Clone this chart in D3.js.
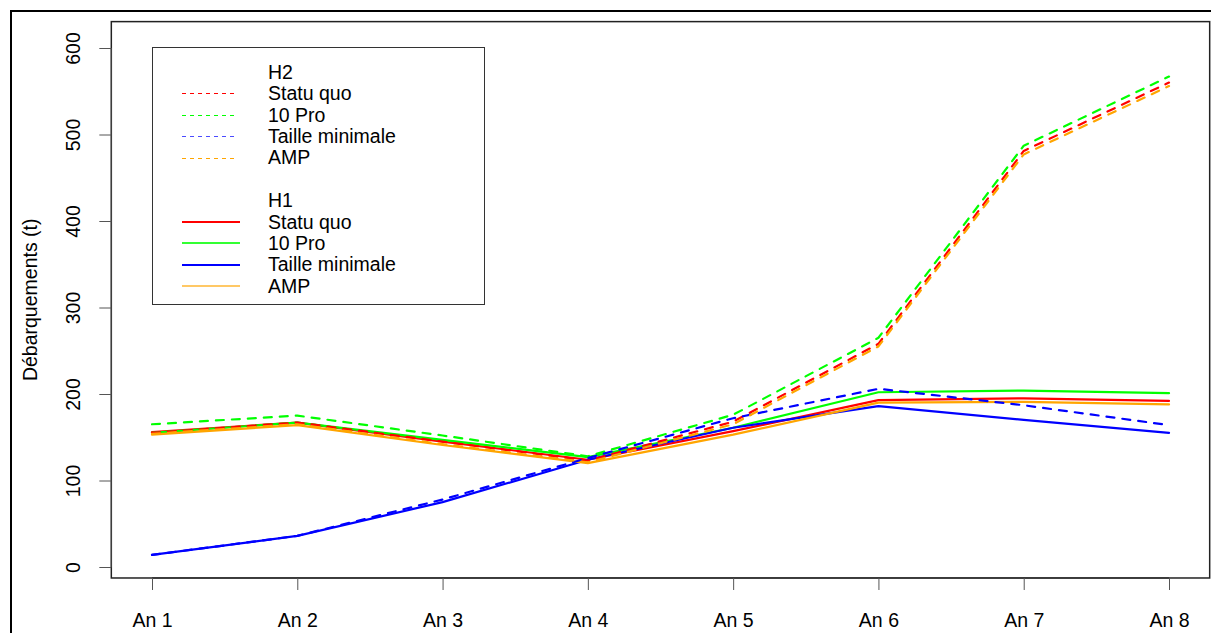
<!DOCTYPE html>
<html>
<head>
<meta charset="utf-8">
<script src="https://cdn.jsdelivr.net/npm/d3@7"></script>
<style>
  html, body { margin: 0; padding: 0; background: #fff; }
  svg { display: block; font-family: "Liberation Sans", Arial, Helvetica, sans-serif; }
</style>
</head>
<body>
<svg id="chart" width="1211" height="633"></svg>
<script>
// ---- data ----
const categories = ["An 1", "An 2", "An 3", "An 4", "An 5", "An 6", "An 7", "An 8"];
const yTicks = [0, 100, 200, 300, 400, 500, 600];

// H2 (dashed)
const h2StatuQuo  = [155, 167, 145, 123, 168, 258, 481, 560];
const h2DixPro    = [165, 175, 152, 128, 176, 265, 487, 567];
const h2TailleMin = [14, 36, 78, 126, 172, 206, 187, 164];
const h2AMP       = [154, 165, 142, 121, 165, 255, 477, 556];

// H1 (solid)
const h1StatuQuo  = [156, 167, 145, 124, 157, 193, 195, 192];
const h1DixPro    = [155, 167, 147, 127, 161, 202, 204, 201];
const h1TailleMin = [14, 36, 75, 124, 161, 186, 170, 155];
const h1AMP       = [153, 164, 141, 120, 153, 190, 191, 188];

const seriesNames = ["Statu quo", "10 Pro", "Taille minimale", "AMP"];
const seriesColors = ["#FF0000", "#00FF00", "#0000FF", "#FFA500"];

const h2 = [h2StatuQuo, h2DixPro, h2TailleMin, h2AMP];
const h1 = [h1StatuQuo, h1DixPro, h1TailleMin, h1AMP];

// ---- layout ----
const FS = 19.5;
const svg = d3.select("#chart");
const x = d3.scaleLinear().domain([1, 8]).range([152, 1169]);
const y = d3.scaleLinear().domain([0, 600]).range([567, 48]);

const boxL = x(0.72), boxR = x(8.28), boxT = y(630.5), boxB = y(-12.7);

// outer frame
svg.append("rect").attr("x", 11).attr("y", 11).attr("width", 1240).attr("height", 660)
  .attr("fill", "none").attr("stroke", "#000").attr("stroke-width", 2);

// plot box
svg.append("rect").attr("x", boxL).attr("y", boxT).attr("width", boxR - boxL).attr("height", boxB - boxT)
  .attr("fill", "none").attr("stroke", "#222").attr("stroke-width", 1.5);

// y axis
const yAxis = d3.axisLeft(y).tickValues(yTicks).tickSize(12).tickPadding(0).tickFormat(d3.format("d"));
const yg = svg.append("g").attr("transform", `translate(${boxL},0)`).call(yAxis);
yg.select(".domain").attr("d", `M0,${y(0)}V${y(600)}`).attr("stroke", "#444");
yg.selectAll(".tick line").attr("stroke", "#555").attr("stroke-width", 1);
yg.selectAll(".tick text")
  .attr("font-size", FS).attr("fill", "#000")
  .attr("text-anchor", "middle")
  .attr("transform", "translate(-38,0) rotate(-90)")
  .attr("x", 0).attr("dy", "0.35em");

// x axis
const xAxis = d3.axisBottom(x).tickValues(d3.range(1, 9)).tickSize(12).tickPadding(0)
  .tickFormat((d, i) => categories[i]);
const xg = svg.append("g").attr("transform", `translate(0,${boxB})`).call(xAxis);
xg.select(".domain").attr("d", `M${x(1)},0H${x(8)}`).attr("stroke", "#222");
xg.selectAll(".tick line").attr("stroke", "#555").attr("stroke-width", 1);
xg.selectAll(".tick text").attr("font-size", FS).attr("fill", "#000").attr("y", 42).attr("dy", "0.35em");

// y title
svg.append("text").attr("transform", `translate(37,${(boxT + boxB) / 2}) rotate(-90)`)
  .attr("text-anchor", "middle").attr("font-size", FS).attr("fill", "#000")
  .text("Débarquements (t)");

// lines
const line = d3.line().x((d, i) => x(i + 1)).y(d => y(d));
const lines = svg.append("g");

h1.forEach((vals, k) => {
  lines.append("path").datum(vals).attr("d", line)
    .attr("fill", "none").attr("stroke", seriesColors[k]).attr("stroke-width", 2.2)
    .attr("stroke-linejoin", "round").attr("stroke-linecap", "round");
});
h2.forEach((vals, k) => {
  lines.append("path").datum(vals).attr("d", line)
    .attr("fill", "none").attr("stroke", seriesColors[k]).attr("stroke-width", 2.2)
    .attr("stroke-dasharray", "8,8")
    .attr("stroke-linejoin", "round").attr("stroke-linecap", "round");
});

// legend
const lg = svg.append("g");
lg.append("rect").attr("x", 152.5).attr("y", 47.5).attr("width", 332).attr("height", 257)
  .attr("fill", "#fff").attr("stroke", "#333").attr("stroke-width", 1);
const rowY = r => 72 + r * 21.4;
const textX = 268;
lg.append("text").attr("x", textX).attr("y", rowY(0)).attr("dy", "0.35em").attr("font-size", FS).text("H2");
seriesNames.forEach((n, k) => {
  const yy = rowY(1 + k);
  const ly = Math.round(yy) + 0.5;
  lg.append("line").attr("x1", 182).attr("x2", 237).attr("y1", ly).attr("y2", ly)
    .attr("stroke", seriesColors[k]).attr("stroke-width", 1).attr("stroke-dasharray", "4,4")
    .attr("shape-rendering", "crispEdges")
    .attr("opacity", k === 2 ? 0.7 : 1);
  lg.append("text").attr("x", textX).attr("y", yy).attr("dy", "0.35em").attr("font-size", FS).text(n);
});
lg.append("text").attr("x", textX).attr("y", rowY(6)).attr("dy", "0.35em").attr("font-size", FS).text("H1");
seriesNames.forEach((n, k) => {
  const yy = rowY(7 + k);
  const ly = Math.round(yy);
  lg.append("line").attr("x1", 182).attr("x2", 240).attr("y1", ly).attr("y2", ly)
    .attr("stroke", seriesColors[k]).attr("stroke-width", 2)
    .attr("shape-rendering", "crispEdges")
    .attr("opacity", k === 3 ? 0.6 : (k === 1 ? 0.8 : 1));
  lg.append("text").attr("x", textX).attr("y", yy).attr("dy", "0.35em").attr("font-size", FS).text(n);
});
</script>
</body>
</html>
